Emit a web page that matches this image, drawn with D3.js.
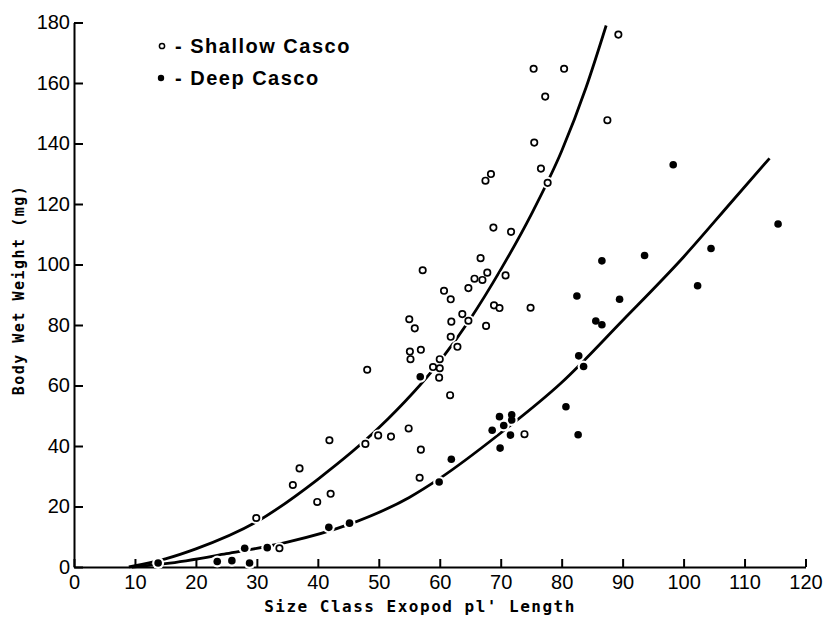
<!DOCTYPE html>
<html>
<head>
<meta charset="utf-8">
<script src="https://cdn.jsdelivr.net/npm/d3@7"></script>
<style>
  body { margin: 0; background: #fff; }
  svg { display: block; }
  .axis path, .axis line { stroke: #000; stroke-width: 2; }
  .axis text { font-family: "Liberation Sans", Arial, sans-serif; font-size: 20px; fill: #000; }
</style>
</head>
<body>
<div id="chart"></div>
<script>
// tick labels
var xTicks = [0, 10, 20, 30, 40, 50, 60, 70, 80, 90, 100, 110, 120];
var yTicks = [0, 20, 40, 60, 80, 100, 120, 140, 160, 180];

// Shallow Casco (open circles)
var shallowX = [29.9, 35.9, 37.0, 41.9, 39.9, 42.1, 33.7, 47.8, 49.9, 52.0, 54.9, 56.9, 56.7, 61.7, 73.9,
  48.1, 57.2, 55.0, 55.9, 55.1, 55.2, 56.9, 60.0, 58.9, 60.0, 59.9, 62.9, 61.8, 61.9, 63.7, 64.7,
  60.7, 61.8, 64.7, 65.7, 67.0, 67.8, 66.7, 70.8, 67.6, 68.9, 69.8, 74.9, 68.8, 71.7,
  67.5, 68.4, 75.5, 76.6, 77.7, 77.3, 75.4, 80.4, 87.5, 89.3];
var shallowY = [16.2, 27.1, 32.6, 41.9, 21.5, 24.2, 6.2, 40.7, 43.5, 43.1, 45.8, 38.8, 29.5, 56.8, 43.9,
  65.2, 98.1, 81.9, 78.9, 71.2, 68.7, 71.8, 68.7, 66.1, 65.7, 62.6, 72.8, 76.1, 81.1, 83.6, 81.4,
  91.3, 88.5, 92.2, 95.3, 94.9, 97.3, 102.1, 96.4, 79.7, 86.5, 85.6, 85.7, 112.2, 110.8,
  127.7, 129.9, 140.3, 131.7, 127.0, 155.5, 164.7, 164.7, 147.7, 176.0];

// Deep Casco (filled circles)
var deepX = [13.8, 23.5, 25.9, 28.8, 28.0, 31.7, 41.8, 45.2, 56.8, 59.9, 61.9, 68.6, 69.8, 70.5, 71.8,
  71.8, 69.9, 71.6, 80.7, 82.7, 82.5, 83.6, 82.8, 85.6, 86.6, 86.6, 89.5, 93.6, 98.3, 102.3, 104.5, 115.5];
var deepY = [1.3, 1.8, 2.1, 1.3, 6.2, 6.4, 13.1, 14.5, 62.9, 28.1, 35.6, 45.2, 49.7, 46.8, 50.3,
  48.6, 39.3, 43.6, 53.0, 43.7, 89.6, 66.3, 69.8, 81.3, 80.1, 101.2, 88.5, 103.0, 133.0, 93.0, 105.3, 113.4];

// fitted curves
var shallowCurveX = [9, 15, 20, 30, 40, 50, 60, 65, 70, 75, 80, 84, 87.3];
var shallowCurveY = [0, 2.7, 6, 15, 29, 46, 68, 82, 98.3, 116.5, 137.5, 158.5, 179];
var deepCurveX = [9.5, 15, 25, 35, 45, 55, 60, 70, 80, 90, 100, 108, 114.1];
var deepCurveY = [0, 1.1, 4.4, 8.2, 14, 23, 29.3, 44.3, 61, 81.5, 102.5, 121, 135.1];

var width = 825, height = 620;
var svg = d3.select('#chart').append('svg')
    .attr('width', width)
    .attr('height', height);

var x = d3.scaleLinear().domain([0, 120]).range([74, 805.5]);
var y = d3.scaleLinear().domain([0, 180]).range([567, 22.5]);

svg.append('g')
    .attr('class', 'axis')
    .attr('transform', 'translate(0,' + y(0) + ')')
    .call(d3.axisBottom(x).tickValues(xTicks).tickSize(-8).tickSizeOuter(0).tickPadding(6))
    .selectAll('text').attr('dy', '0.75em').attr('y', 7);

svg.append('g')
    .attr('class', 'axis')
    .attr('transform', 'translate(' + x(0) + ',0)')
    .call(d3.axisLeft(y).tickValues(yTicks).tickSize(-9).tickSizeOuter(0).tickPadding(4));

// axis titles
svg.append('text')
    .attr('x', 420)
    .attr('y', 612)
    .attr('text-anchor', 'middle')
    .style('font-family', '"DejaVu Sans Mono", monospace')
    .style('font-size', '16px')
    .style('font-weight', 'bold')
    .style('letter-spacing', '1.5px')
    .text("Size Class Exopod pl' Length");

svg.append('text')
    .attr('transform', 'translate(24,290) rotate(-90)')
    .attr('text-anchor', 'middle')
    .style('font-family', '"DejaVu Sans Mono", monospace')
    .style('font-size', '15px')
    .style('font-weight', 'bold')
    .style('letter-spacing', '1.5px')
    .text('Body Wet Weight (mg)');

// curves
var line = d3.line().curve(d3.curveMonotoneX);
function curvePts(xs, ys) {
  return xs.map(function(v, i) { return [x(v), y(ys[i])]; });
}
svg.append('path')
    .attr('d', line(curvePts(shallowCurveX, shallowCurveY)))
    .attr('fill', 'none')
    .attr('stroke', '#000')
    .attr('stroke-width', 2.8);
svg.append('path')
    .attr('d', line(curvePts(deepCurveX, deepCurveY)))
    .attr('fill', 'none')
    .attr('stroke', '#000')
    .attr('stroke-width', 2.8);

// white halos break the curves where points sit on them
var halo = svg.append('g');
shallowX.forEach(function(v, i) {
  halo.append('circle').attr('cx', x(v)).attr('cy', y(shallowY[i])).attr('r', 6).attr('fill', '#fff');
});
deepX.forEach(function(v, i) {
  halo.append('circle').attr('cx', x(v)).attr('cy', y(deepY[i])).attr('r', 6).attr('fill', '#fff');
});

svg.append('g').selectAll('circle')
    .data(shallowX)
    .enter().append('circle')
    .attr('cx', function(d) { return x(d); })
    .attr('cy', function(d, i) { return y(shallowY[i]); })
    .attr('r', 3.2)
    .attr('fill', '#fff')
    .attr('stroke', '#000')
    .attr('stroke-width', 1.7);

svg.append('g').selectAll('circle')
    .data(deepX)
    .enter().append('circle')
    .attr('cx', function(d) { return x(d); })
    .attr('cy', function(d, i) { return y(deepY[i]); })
    .attr('r', 3.8)
    .attr('fill', '#000');

// legend
var legend = svg.append('g');
legend.append('circle').attr('cx', 162).attr('cy', 46).attr('r', 2.6)
    .attr('fill', '#fff').attr('stroke', '#000').attr('stroke-width', 1.5);
legend.append('circle').attr('cx', 161).attr('cy', 78).attr('r', 3.2).attr('fill', '#000');
legend.append('text').attr('x', 175).attr('y', 53).text('- Shallow Casco');
legend.append('text').attr('x', 175).attr('y', 85).text('- Deep Casco');
legend.selectAll('text')
    .style('font-family', '"Liberation Sans", Arial, sans-serif')
    .style('font-size', '20px')
    .style('font-weight', 'bold')
    .style('letter-spacing', '1.5px');
</script>
</body>
</html>
